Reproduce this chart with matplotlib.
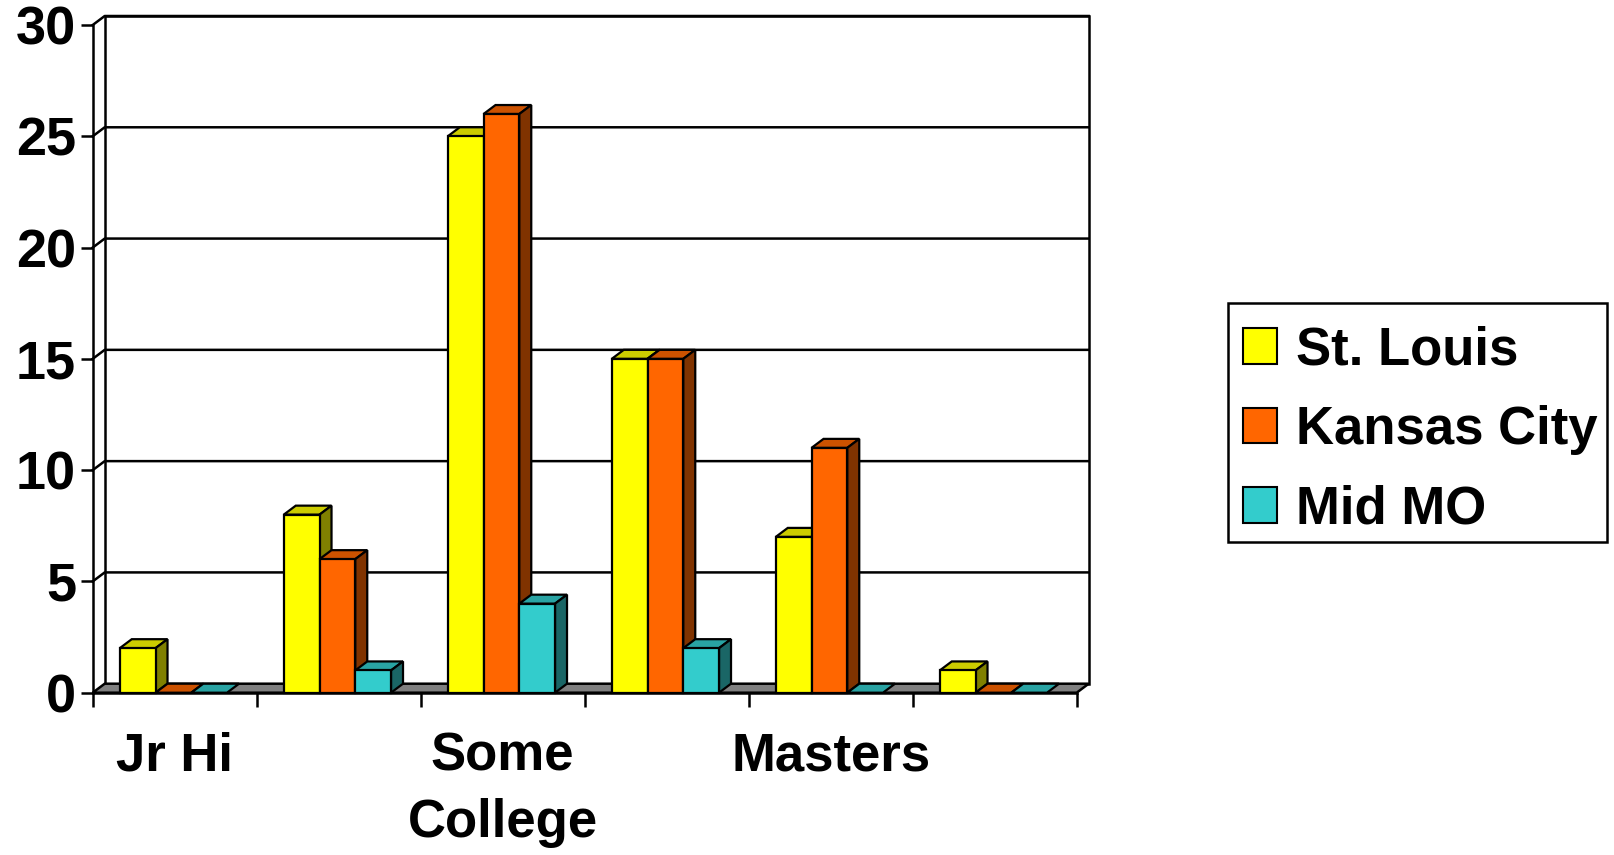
import matplotlib
matplotlib.use('Agg')
import matplotlib.pyplot as plt
from matplotlib.patches import Polygon, Patch, Rectangle
import numpy as np

# data
categories = ['Jr Hi', '', 'Some\nCollege', '', 'Masters', '']
series = ['St. Louis', 'Kansas City', 'Mid MO']
st_louis = [2, 8, 25, 15, 7, 1]
kansas_city = [0, 6, 26, 15, 11, 0]
mid_mo = [0, 1, 4, 2, 0, 0]
y_ticks = [0, 5, 10, 15, 20, 25, 30]

colors = ['#FFFF00', '#FF6600', '#33CCCC']
top_colors = ['#CCCC00', '#CC5200', '#29A3A3']
side_colors = ['#808000', '#803300', '#1A6666']

plt.rcParams['font.family'] = ['Liberation Sans', 'DejaVu Sans']
plt.rcParams['font.weight'] = 'bold'

W, H = 1614, 855
fig = plt.figure(figsize=(W / 100, H / 100), dpi=100)
# front plane of the 3d chart
ax_l, ax_b, ax_w, ax_h = 92.7, 162.3, 984, 667.7
ax = fig.add_axes([ax_l / W, ax_b / H, ax_w / W, ax_h / H])
n = len(categories)
ymax = y_ticks[-1]
ax.set_xlim(0, n)
ax.set_ylim(0, ymax)

# depth offset (pixels -> data units)
ddx = 12 / (ax_w / n)
ddy = 9 / (ax_h / ymax)

# back wall + gridlines
ax.add_patch(Polygon([(ddx, ddy), (n + ddx, ddy), (n + ddx, ymax + ddy), (ddx, ymax + ddy)],
                     closed=True, fc='white', ec='black', lw=1.8, clip_on=False, zorder=1))
for t in y_ticks[1:]:
    ax.plot([0, ddx, n + ddx], [t, t + ddy, t + ddy], color='black', lw=1.8,
            clip_on=False, zorder=2)
# floor
ax.add_patch(Polygon([(0, 0), (n, 0), (n + ddx, ddy), (ddx, ddy)], closed=True,
                     fc='#808080', ec='black', lw=1.8, clip_on=False, zorder=3))

# bars
gap, w = 0.165, 0.218
values = [st_louis, kansas_city, mid_mo]
z = 4
for i in range(n):
    for j, vals in enumerate(values):
        v = vals[i]
        x0 = i + gap + j * w
        x1 = x0 + w
        kw = dict(ec='black', lw=1.6, clip_on=False, zorder=z)
        ax.add_patch(Polygon([(x0, v), (x1, v), (x1 + ddx, v + ddy), (x0 + ddx, v + ddy)],
                             fc=top_colors[j], **kw))
        if v > 0:
            ax.add_patch(Polygon([(x1, 0), (x1 + ddx, ddy), (x1 + ddx, v + ddy), (x1, v)],
                                 fc=side_colors[j], **kw))
            ax.add_patch(Polygon([(x0, 0), (x1, 0), (x1, v), (x0, v)], fc=colors[j], **kw))
        z += 1

for s in ['top', 'right']:
    ax.spines[s].set_visible(False)
for s in ['left', 'bottom']:
    ax.spines[s].set_linewidth(1.8)
    ax.spines[s].set_zorder(50)
ax.patch.set_visible(False)

ax.set_yticks(y_ticks)
ax.set_yticklabels([str(t) for t in y_ticks])
ax.tick_params(axis='y', length=9, width=1.8, pad=3, labelsize=39)
ax.set_xticks(range(n + 1))
ax.set_xticklabels([])
ax.tick_params(axis='x', which='major', length=10, width=1.8)
ax.set_xticks(np.arange(n) + 0.5, minor=True)
ax.set_xticklabels(categories, minor=True, linespacing=1.42)
ax.tick_params(axis='x', which='minor', length=0, pad=28, labelsize=38)

# legend box, drawn separately so the entries can sit a bit low in it like the original
fig.patches.append(Rectangle((1228 / W, 1 - 542 / H), 379 / W, 239 / H, transform=fig.transFigure,
                             fc='white', ec='black', lw=1.8, zorder=0))
handles = [Patch(fc=c, ec='black', lw=1.5) for c in colors]
leg = fig.legend(handles, series, loc='center', bbox_to_anchor=(1420 / W, 1 - 430 / H),
                 fontsize=38, frameon=False,
                 handlelength=0.65, handleheight=0.65, handletextpad=0.35,
                 labelspacing=0.56, borderpad=0.28)

fig.savefig('out.png', dpi=100)
